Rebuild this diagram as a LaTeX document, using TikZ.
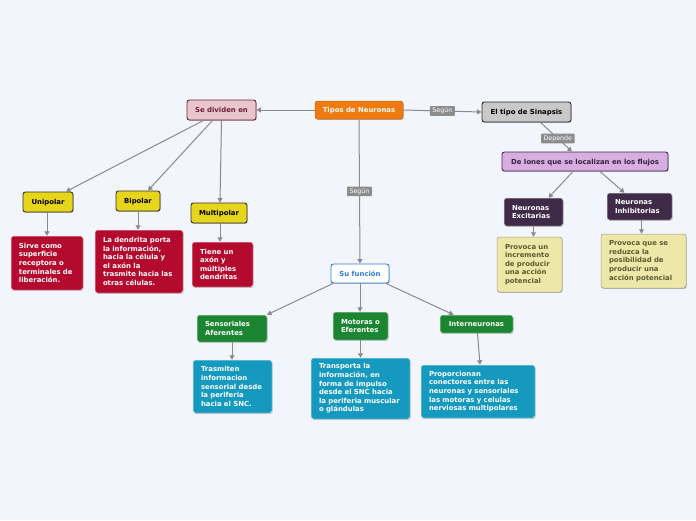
\documentclass[tikz,border=0pt]{standalone}
\usepackage{fontspec}
\setmainfont{DejaVu Sans}
\usetikzlibrary{arrows.meta,shadows}
\definecolor{bg}{RGB}{243,245,253}
\definecolor{edgec}{RGB}{138,138,142}
\definecolor{orng}{RGB}{238,122,16}
\definecolor{pinkf}{RGB}{233,198,205}
\definecolor{pinkd}{RGB}{110,31,53}
\definecolor{grayf}{RGB}{201,201,201}
\definecolor{lilf}{RGB}{216,173,223}
\definecolor{lild}{RGB}{70,40,86}
\definecolor{dpurp}{RGB}{63,42,71}
\definecolor{lyel}{RGB}{238,232,168}
\definecolor{lyeld}{RGB}{92,90,48}
\definecolor{yel}{RGB}{230,213,26}
\definecolor{redb}{RGB}{179,10,45}
\definecolor{blueb}{RGB}{47,123,216}
\definecolor{grn}{RGB}{28,133,50}
\definecolor{teal}{RGB}{21,153,190}
\definecolor{lblg}{RGB}{140,140,140}
\tikzset{
  base/.style={rounded corners=2.5pt, inner sep=0pt, font=\fontsize{6.9}{8.6}\selectfont\bfseries,
     drop shadow={shadow xshift=0.6pt, shadow yshift=-0.9pt, opacity=0.25, fill=black}},
  single/.style={text height=5pt, text depth=0pt},
  multi/.style={align=left, inner xsep=8pt, inner ysep=0pt, text width=#1},
  orangebox/.style={base, single, fill=orng, draw=orng!85!black, line width=0.5pt, text=white},
  pinkbox/.style={base, single, fill=pinkf, draw=pinkd, line width=0.9pt, text=pinkd},
  graybox/.style={base, single, fill=grayf, draw=black!85, line width=0.9pt, text=black},
  lilbox/.style={base, single, fill=lilf, draw=lild, line width=0.9pt, text=lild!80!black},
  purpbox/.style={base, fill=dpurp, draw=white!80!dpurp, line width=0.5pt, text=white},
  lyelbox/.style={base, fill=lyel, draw=lyeld!60, line width=0.5pt, text=lyeld},
  yelbox/.style={base, single, fill=yel, draw=black!80, line width=0.9pt, text=black},
  redbox/.style={base, fill=redb, draw=white!85!redb, line width=0.5pt, text=white},
  bluebox/.style={base, single, fill=white, draw=blueb, line width=0.9pt, text=blueb},
  grnbox/.style={base, fill=grn, draw=white!80!grn, line width=0.5pt, text=white},
  tealbox/.style={base, fill=teal, draw=white!80!teal, line width=0.5pt, text=white},
  lbl/.style={fill=lblg, text=white, inner xsep=2.5pt, inner ysep=2pt, rounded corners=0.8pt,
     font=\fontsize{6.3}{7}\selectfont, text height=4.6pt, text depth=1pt},
  conn/.style={draw=edgec, line width=1pt, -{Triangle[length=4.5pt,width=5pt]}},
}
\begin{document}
\begin{tikzpicture}[x=1pt,y=-1pt]
\fill[bg] (0,0) rectangle (696,520);
\useasboundingbox (0,0) rectangle (696,520);

% top row
\node[orangebox, minimum width=88pt, minimum height=18pt] (tipos) at (359,110) {Tipos de Neuronas};
\node[pinkbox, minimum width=69pt, minimum height=20pt] (divid) at (221.5,110) {Se dividen en};
\node[graybox, minimum width=89pt, minimum height=20pt] (sinap) at (526.5,112) {El tipo de Sinapsis};
\node[lilbox, minimum width=166pt, minimum height=19pt] (iones) at (585,161.5) {De Iones que se localizan en los flujos};

% right branch
\node[purpbox, multi=43pt, minimum height=28pt] (exc) at (533.5,212) {Neuronas\\Excitarias};
\node[purpbox, multi=49pt, minimum height=27pt] (inh) at (639.5,206.5) {Neuronas\\Inhibitorias};
\node[lyelbox, multi=49pt, minimum height=55pt] (pexc) at (529.5,264.5) {Provoca un\\incremento\\de producir\\una acción\\potencial};
\node[lyelbox, multi=69pt, minimum height=54pt] (pinh) at (643.5,261) {Provoca que se\\reduzca la\\posibilidad de\\producir una\\acción potencial};

% left branch
\node[yelbox, minimum width=50pt, minimum height=20pt] (uni) at (48,202) {Unipolar};
\node[yelbox, minimum width=44pt, minimum height=20pt] (bip) at (138,201) {Bipolar};
\node[yelbox, minimum width=56pt, minimum height=20pt] (mul) at (219,213) {Multipolar};
\node[redbox, multi=56pt, minimum height=54pt] (sirve) at (47,263) {Sirve como\\superficie\\receptora o\\terminales de\\liberación.};
\node[redbox, multi=72pt, minimum height=63pt] (dend) at (139,261.5) {La dendrita porta\\la información,\\hacia la célula y\\el axón la\\trasmite hacia las\\otras células.};
\node[redbox, multi=45pt, minimum height=45pt] (tiene) at (222.5,264.5) {Tiene un\\axón y\\múltiples\\dendritas};

% bottom branch
\node[bluebox, minimum width=58pt, minimum height=19pt] (func) at (360,273.5) {Su función};
\node[grnbox, multi=54pt, minimum height=27pt] (sens) at (232,328.5) {Sensoriales\\Aferentes};
\node[grnbox, multi=39pt, minimum height=28pt] (mot) at (360.5,326) {Motoras o\\Eferentes};
\node[grnbox, single, minimum width=73pt, minimum height=18pt] (inter) at (476.5,324) {Interneuronas};
\node[tealbox, multi=63pt, minimum height=53pt] (tras) at (232.5,386.5) {Trasmiten\\informacion\\sensorial desde\\la periferia\\hacia el SNC.};
\node[tealbox, multi=83pt, minimum height=61pt] (transp) at (360.5,388.5) {Transporta la\\información, en\\forma de impulso\\desde el SNC hacia\\la periferia muscular\\o glándulas};
\node[tealbox, multi=98pt, minimum height=53pt] (prop) at (478,391.5) {Proporcionan\\conectores entre las\\neuronas y sensoriales\\las motoras y celulas\\nerviosas multipolares};

% connectors
\draw[conn] (tipos.west) -- (divid.east);
\draw[conn] (tipos.east) -- node[lbl, pos=0.5] (l1) {Según} (sinap.west);
\coordinate (s1) at ([xshift=14pt]sinap.south);
\draw[conn] (s1) -- node[lbl, pos=0.55] (l2) {Depende} ([xshift=-13pt]iones.north);
\draw[conn] ([xshift=-12pt]iones.south) -- ([xshift=15pt]exc.north);
\draw[conn] ([xshift=15pt]iones.south) -- ([xshift=-15pt]inh.north);
\draw[conn] (exc.south) -- (exc.south |- pexc.north);
\draw[conn] ([xshift=2pt]inh.south) -- ([xshift=2pt]inh.south |- pinh.north);

\draw[conn] ([xshift=-18pt]divid.south) -- ([xshift=18pt]uni.north);
\draw[conn] ([xshift=-9pt]divid.south) -- ([xshift=10pt]bip.north);
\draw[conn] (divid.south) -- ([xshift=1pt]mul.north);
\draw[conn] ([xshift=-1pt]uni.south) -- ([xshift=-1pt]uni.south |- sirve.north);
\draw[conn] (bip.south) -- (bip.south |- dend.north);
\draw[conn] ([xshift=1pt]mul.south) -- ([xshift=1pt]mul.south |- tiene.north);

\draw[conn] (tipos.south) -- node[lbl, pos=0.5] (l3) {Según} (func.north);
\draw[conn] ([xshift=-27pt]func.south) -- ([xshift=35pt]sens.north);
\draw[conn] (func.south) -- (func.south |- mot.north);
\draw[conn] ([xshift=26pt]func.south) -- ([xshift=-23pt]inter.north);
\draw[conn] (sens.south) -- (sens.south |- tras.north);
\draw[conn] (mot.south) -- (mot.south |- transp.north);
\draw[conn] ([xshift=1pt]inter.south) -- ([xshift=2pt]prop.north);
\end{tikzpicture}
\end{document}
